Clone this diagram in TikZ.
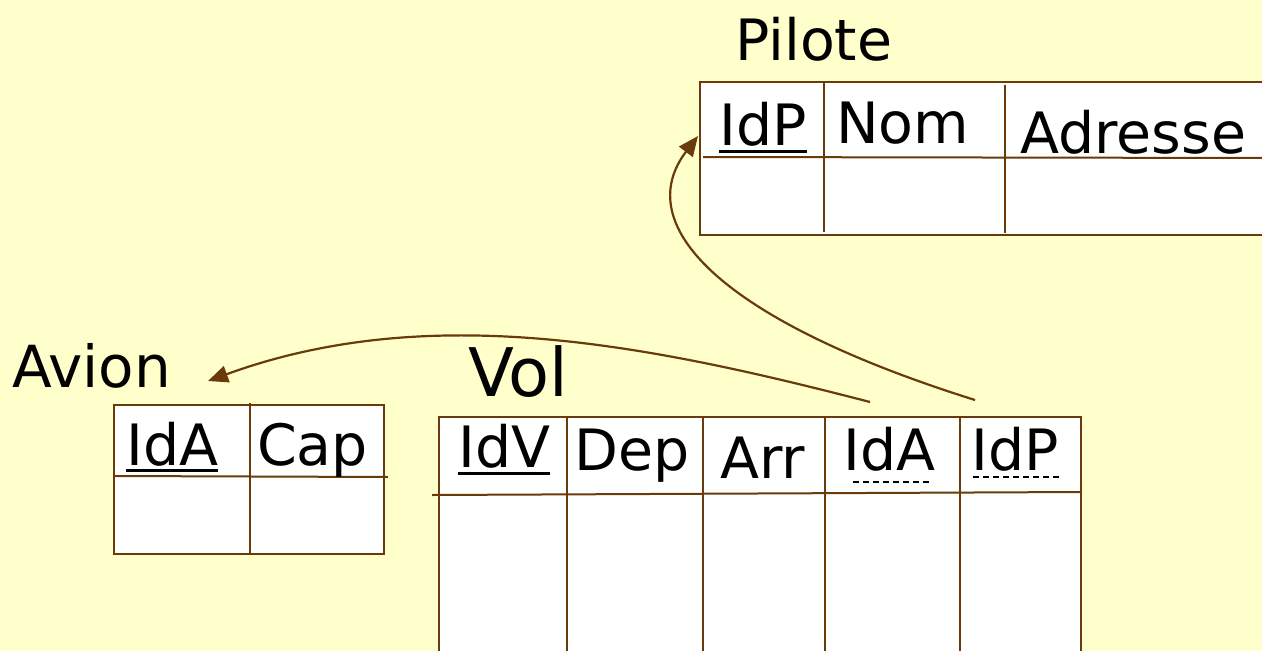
\documentclass[tikz,border=0pt]{standalone}
\usepackage{fontspec}
\setmainfont{DejaVu Sans}
\usetikzlibrary{arrows.meta}
\definecolor{bg}{HTML}{FFFFCC}
\definecolor{brn}{HTML}{6B3A0A}
\begin{document}
\begin{tikzpicture}[x=1pt,y=-1pt,
  tbl/.style={draw=brn,fill=white,line width=2.2pt},
  grid/.style={draw=brn,line width=2pt},
  lbl/.style={anchor=base west,inner sep=0pt,font=\fontsize{57}{64}\selectfont},
  title/.style={anchor=base west,inner sep=0pt,font=\fontsize{57}{64}\selectfont},
  ul/.style={line width=3pt,black},
  dul/.style={line width=1.4pt,black,dash pattern=on 6pt off 4pt},
  arr/.style={draw=brn,line width=2.2pt,-{Triangle[length=20pt,width=17pt]}}]
\fill[bg] (0,0) rectangle (1262,651);
\useasboundingbox (0,0) rectangle (1262,651);
% Pilote
\node[title] (tPil) at (735,60) {Pilote};
\path[tbl] (700,82) rectangle (1270,235);
\draw[grid] (703,157) -- (1265,158);
\draw[grid] (824,82) -- (824,232);
\draw[grid] (1005,85) -- (1005,233);
\node[lbl] (pIdP) at (719,145) {IdP};
\node[lbl] (pNom) at (836,143) {Nom};
\node[lbl] (pAdr) at (1020,153) {Adresse};
\draw[ul] ([yshift=-6pt]pIdP.base west) -- ([yshift=-6pt]pIdP.base east);
% Avion
\node[anchor=base west,inner sep=0pt,font=\fontsize{58}{66}\selectfont] (tAv) at (12,387) {Avion};
\path[tbl] (114,405) rectangle (384,554);
\draw[grid] (114,476) -- (388,477);
\draw[grid] (250,403) -- (250,553);
\node[lbl] (aIdA) at (126,465) {IdA};
\node[lbl] (aCap) at (257,465) {Cap};
\draw[ul] ([yshift=-5pt]aIdA.base west) -- ([yshift=-5pt]aIdA.base east);
% Vol
\node[anchor=base west,inner sep=0pt,font=\fontsize{67}{74}\selectfont] (tVol) at (468,396) {Vol};
\path[tbl] (439,417) rectangle (1081,660);
\draw[grid] (432,495) -- (1081,492);
\foreach \x in {567,703,825,960} \draw[grid] (\x,417) -- (\x,651);
\node[lbl] (vIdV) at (458,467) {IdV};
\node[lbl] (vDep) at (574,470) {Dep};
\node[lbl] (vArr) at (720,478) {Arr};
\node[lbl] (vIdA) at (843,470) {IdA};
\node[lbl] (vIdP) at (971,470) {IdP};
\draw[ul] ([yshift=-6pt]vIdV.base west) -- ([yshift=-6pt]vIdV.base east);
\draw[dul] ([yshift=-12pt,xshift=10pt]vIdA.base west) -- ([yshift=-12pt,xshift=-6pt]vIdA.base east);
\draw[dul] ([yshift=-7pt,xshift=2pt]vIdP.base west) -- ([yshift=-7pt]vIdP.base east);
% connectors
\coordinate (s1) at (870,402);
\coordinate (e1) at (208,381);
\coordinate (s2) at (975,400);
\coordinate (e2) at (698,136);
\draw[arr] (s1) .. controls (650,345) and (430,300) .. (e1);
\draw[arr] (s2) .. controls (720,320) and (630,225) .. (e2);
\end{tikzpicture}
\end{document}
